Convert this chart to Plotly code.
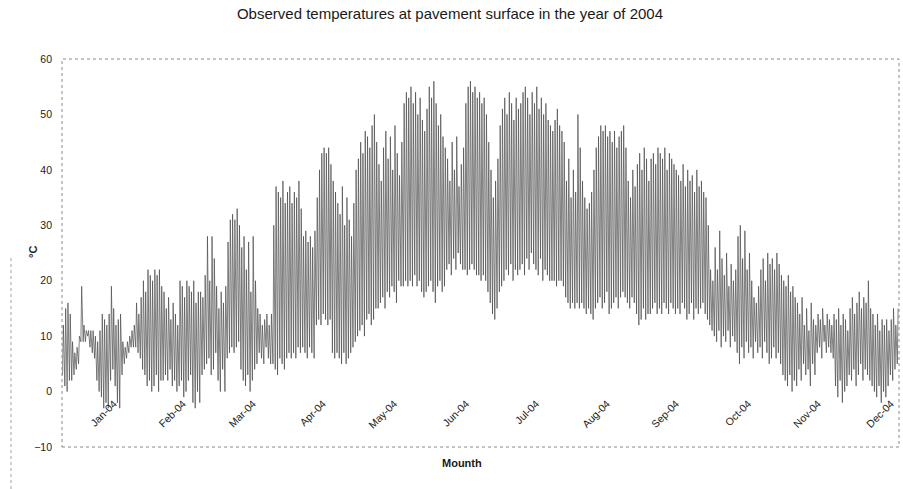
import plotly.graph_objects as go

# Daily maximum / minimum pavement-surface temperatures (°C), 2004 (leap year)
jan_max = [12, 15, 16, 14, 9, 7, 8, 10, 19, 12, 11, 11, 11, 11, 10, 9, 11, 14, 13, 12, 14, 19, 15, 12, 13, 14, 9, 8, 9, 10, 11]
jan_min = [3, 1, 0, 2, 2, 3, 4, 5, 9, 9, 9, 10, 8, 7, 6, 2, 0, -1, -3, -2, -3, 2, 4, 1, -2, -3, 3, 5, 6, 7, 8]
feb_max = [12, 16, 14, 17, 20, 18, 22, 21, 20, 22, 21, 22, 19, 18, 15, 17, 13, 16, 14, 12, 20, 19, 17, 20, 19, 18, 20, 16, 18]
feb_min = [8, 8, 7, 6, 4, 3, 1, 2, 0, 1, 3, 0, 2, 2, 3, 2, 4, 1, 2, 0, 1, 2, -1, 0, 2, 3, -2, -3, 0]
mar_max = [18, 17, 21, 28, 20, 28, 24, 19, 15, 18, 16, 19, 27, 31, 32, 31, 33, 30, 26, 28, 22, 27, 18, 28, 20, 15, 14, 12, 13, 14, 12]
mar_min = [-2, 3, 4, 5, 6, 3, 4, 7, 2, 0, 4, 0, 6, 7, 8, 7, 8, 9, 4, 2, 1, 3, 0, 2, 4, 5, 7, 6, 5, 8, 6]
apr_max = [14, 30, 37, 36, 35, 38, 34, 36, 37, 34, 36, 35, 38, 33, 28, 29, 27, 28, 26, 29, 35, 40, 43, 44, 43, 44, 41, 38, 36, 34]
apr_min = [5, 5, 4, 3, 6, 5, 4, 6, 7, 6, 7, 6, 8, 7, 8, 7, 6, 8, 7, 6, 12, 13, 12, 14, 13, 12, 13, 7, 6, 7]
may_max = [32, 37, 30, 35, 31, 28, 34, 40, 42, 45, 43, 47, 46, 44, 48, 50, 45, 41, 38, 44, 47, 42, 46, 40, 48, 43, 39, 45, 52, 54, 53]
may_min = [6, 5, 7, 5, 6, 7, 8, 9, 10, 11, 12, 10, 13, 14, 12, 13, 15, 15, 16, 17, 15, 18, 17, 19, 18, 16, 20, 19, 19, 20, 19]
jun_max = [55, 52, 54, 50, 53, 49, 47, 51, 55, 53, 56, 52, 48, 50, 46, 44, 42, 38, 45, 40, 46, 37, 41, 44, 52, 55, 56, 54, 55, 53]
jun_min = [20, 19, 21, 19, 20, 18, 17, 18, 19, 20, 18, 16, 19, 20, 18, 19, 22, 23, 21, 24, 22, 25, 23, 22, 22, 21, 22, 23, 22, 21]
jul_max = [54, 52, 53, 50, 45, 40, 35, 38, 42, 48, 51, 53, 50, 54, 52, 49, 53, 51, 52, 54, 55, 53, 50, 54, 52, 55, 51, 53, 50, 52, 49]
jul_min = [21, 20, 21, 20, 18, 16, 14, 13, 15, 18, 19, 20, 22, 21, 23, 20, 22, 21, 22, 23, 21, 24, 22, 25, 23, 22, 21, 24, 20, 22, 21]
aug_max = [48, 47, 49, 51, 48, 47, 45, 38, 42, 35, 40, 36, 50, 44, 38, 35, 33, 34, 36, 40, 44, 46, 48, 47, 48, 46, 47, 45, 47, 44, 46]
aug_min = [20, 20, 20, 19, 20, 20, 19, 17, 16, 15, 16, 15, 16, 15, 16, 15, 14, 15, 14, 13, 15, 16, 17, 15, 16, 18, 14, 15, 16, 17, 15]
sep_max = [47, 48, 44, 38, 35, 40, 37, 41, 43, 40, 44, 42, 38, 42, 43, 41, 44, 43, 42, 44, 40, 43, 42, 41, 40, 39, 38, 41, 37, 40]
sep_min = [17, 18, 17, 16, 15, 17, 16, 14, 12, 13, 15, 13, 14, 14, 15, 16, 14, 15, 14, 16, 15, 14, 16, 15, 14, 15, 14, 16, 15, 13]
oct_max = [38, 39, 36, 40, 37, 38, 36, 35, 30, 22, 20, 26, 22, 29, 24, 21, 25, 19, 23, 20, 22, 28, 30, 24, 29, 22, 25, 20, 17, 16, 19]
oct_min = [14, 16, 13, 15, 14, 15, 16, 14, 13, 12, 11, 10, 9, 11, 8, 10, 9, 11, 8, 10, 9, 7, 5, 8, 6, 9, 7, 8, 6, 9, 7]
nov_max = [22, 24, 20, 25, 23, 24, 22, 25, 23, 21, 20, 19, 21, 18, 19, 17, 16, 14, 17, 12, 15, 11, 16, 13, 12, 14, 13, 15, 12, 14]
nov_min = [8, 6, 9, 7, 5, 6, 8, 6, 7, 5, 3, 2, 1, 3, 0, 2, 1, 4, 2, 5, 3, 4, 1, 5, 3, 7, 8, 6, 9, 7]
dec_max = [13, 12, 14, 13, 15, 12, 14, 13, 11, 15, 17, 14, 16, 18, 15, 17, 16, 20, 15, 14, 12, 14, 11, 13, 12, 13, 11, 13, 15, 12, 15]
dec_min = [8, 7, 6, 1, -1, 2, -2, 0, 1, 3, 2, 4, 1, 3, 5, 2, 4, 3, 2, 1, 0, -1, 1, -2, 0, -1, 1, 3, 2, 4, 5]

month_labels = ["Jan-04", "Feb-04", "Mar-04", "Apr-04", "May-04", "Jun-04",
                "Jul-04", "Aug-04", "Sep-04", "Oct-04", "Nov-04", "Dec-04"]
month_tick_days = [22.7, 52.9, 83.5, 114.1, 145.2, 176.7, 207.3, 238.3, 268.5, 300.0, 330.6, 362.5]
y_ticks = [60, 50, 40, 30, 20, 10, 0, -10]

daily_max = (jan_max + feb_max + mar_max + apr_max + may_max + jun_max +
             jul_max + aug_max + sep_max + oct_max + nov_max + dec_max)
daily_min = (jan_min + feb_min + mar_min + apr_min + may_min + jun_min +
             jul_min + aug_min + sep_min + oct_min + nov_min + dec_min)

# Each day: early-morning minimum followed by the afternoon maximum
xs, ys = [], []
for d, (lo, hi) in enumerate(zip(daily_min, daily_max)):
    xs += [d + 0.25, d + 0.6]
    ys += [lo, hi]

fig = go.Figure()
fig.add_trace(go.Scatter(
    x=xs, y=ys, mode="lines",
    line=dict(color="#4a4a4a", width=0.7),
    hoverinfo="skip", showlegend=False,
))

font_family = "Liberation Sans, Arial, sans-serif"

fig.update_layout(
    width=903, height=489,
    margin=dict(l=62, r=4, t=59, b=42),
    paper_bgcolor="white", plot_bgcolor="white",
    font=dict(family=font_family, color="#1a1a1a", size=10),
    title=dict(
        text="Observed temperatures at pavement surface in the year of 2004",
        x=450 / 903, xref="container", xanchor="center",
        y=1 - 14 / 489, yref="container", yanchor="middle",
        font=dict(size=15, family=font_family, color="#1a1a1a"),
    ),
    xaxis=dict(
        range=[0, 366], anchor="free", position=10 / 70,
        showgrid=False, zeroline=False, showline=False, ticks="",
        tickmode="array", tickvals=month_tick_days, ticktext=month_labels,
        tickangle=-45, tickfont=dict(size=10.5, color="#222"),
        ticklabelstandoff=3,
    ),
    yaxis=dict(
        range=[-10, 60], showgrid=False, zeroline=False, showline=False,
        tickmode="array", tickvals=y_ticks, ticks="",
        ticklabelstandoff=9, tickfont=dict(size=10.5, color="#222"),
    ),
)

# Dotted frame round the plot area
fig.add_shape(type="rect", xref="paper", yref="paper", x0=0, y0=0, x1=1, y1=1,
              line=dict(color="#8a8a8a", width=1, dash="dot"), layer="above")
# Outer chart-area border on the left edge
fig.add_shape(type="line", xref="paper", yref="paper",
              x0=(11 - 62) / 837, x1=(11 - 62) / 837, y0=-42 / 388, y1=(447 - 255) / 388,
              line=dict(color="#a0a0a0", width=1, dash="dot"))

fig.add_annotation(text="<b>Mounth</b>", xref="paper", yref="paper",
                   x=(462 - 62) / 837, y=(447 - 463) / 388,
                   xanchor="center", yanchor="middle", showarrow=False,
                   font=dict(size=11, family=font_family, color="#1a1a1a"))
fig.add_annotation(text="<b>°C</b>", xref="paper", yref="paper",
                   x=(33 - 62) / 837, y=(447 - 252) / 388, textangle=-90,
                   xanchor="center", yanchor="middle", showarrow=False,
                   font=dict(size=11, family=font_family, color="#1a1a1a"))

fig.write_html("out.html")
